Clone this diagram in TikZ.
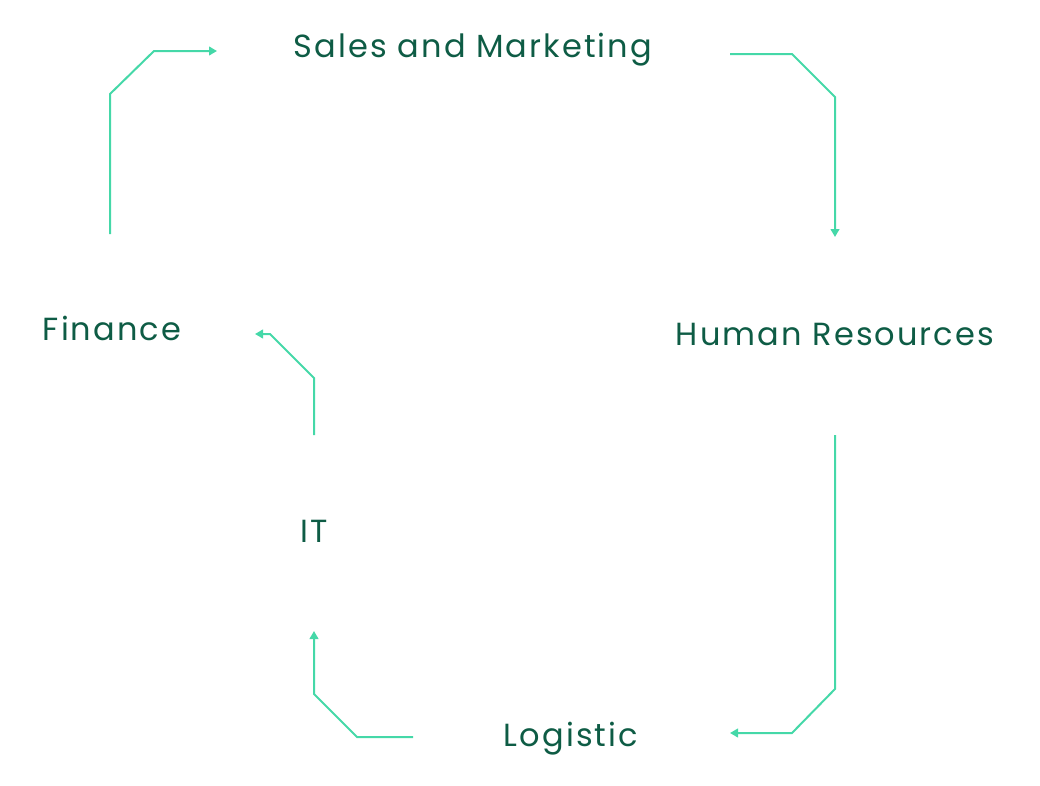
\documentclass[tikz,border=0pt]{standalone}
\usepackage{fontspec}
\setmainfont{Poppins}[LetterSpace=6.5]
\usetikzlibrary{arrows.meta}
\definecolor{txtgreen}{HTML}{0E5C45}
\definecolor{linegreen}{HTML}{45D8A8}
\begin{document}
\begin{tikzpicture}[x=0.75pt,y=-0.75pt,
  lbl/.style={anchor=base,inner sep=0pt,text=txtgreen,font=\fontsize{24}{28}\selectfont},
  conn/.style={draw=linegreen,line width=1.5pt,line join=miter,-{Triangle[length=6pt,width=6.5pt]}}]
\useasboundingbox (0,0) rectangle (1040,786);
\node[lbl] (sales) at (473,57) {Sales and Marketing};
\node[lbl] (hr) at (835,345) {Human Resources};
\node[lbl] (fin) at (112,340) {Finance};
\node[lbl] (it) at (314,542) {IT};
\node[lbl] (log) at (571,746) {Logistic};
% connector end points
\coordinate (f1) at (110,234);
\coordinate (f2) at (217,51);
\coordinate (s1) at (730,54);
\coordinate (s2) at (835,237);
\coordinate (h1) at (835,435);
\coordinate (h2) at (730,733);
\coordinate (l1) at (413,737);
\coordinate (l2) at (314,631);
\coordinate (i1) at (314,435);
\coordinate (i2) at (255,334);
\draw[conn] (f1) -- (110,94) -- (154,51) -- (f2);
\draw[conn] (s1) -- (792,54) -- (835,97) -- (s2);
\draw[conn] (h1) -- (835,689) -- (792,733) -- (h2);
\draw[conn] (l1) -- (357,737) -- (314,694) -- (l2);
\draw[conn] (i1) -- (314,378) -- (270,334) -- (i2);
\end{tikzpicture}
\end{document}
